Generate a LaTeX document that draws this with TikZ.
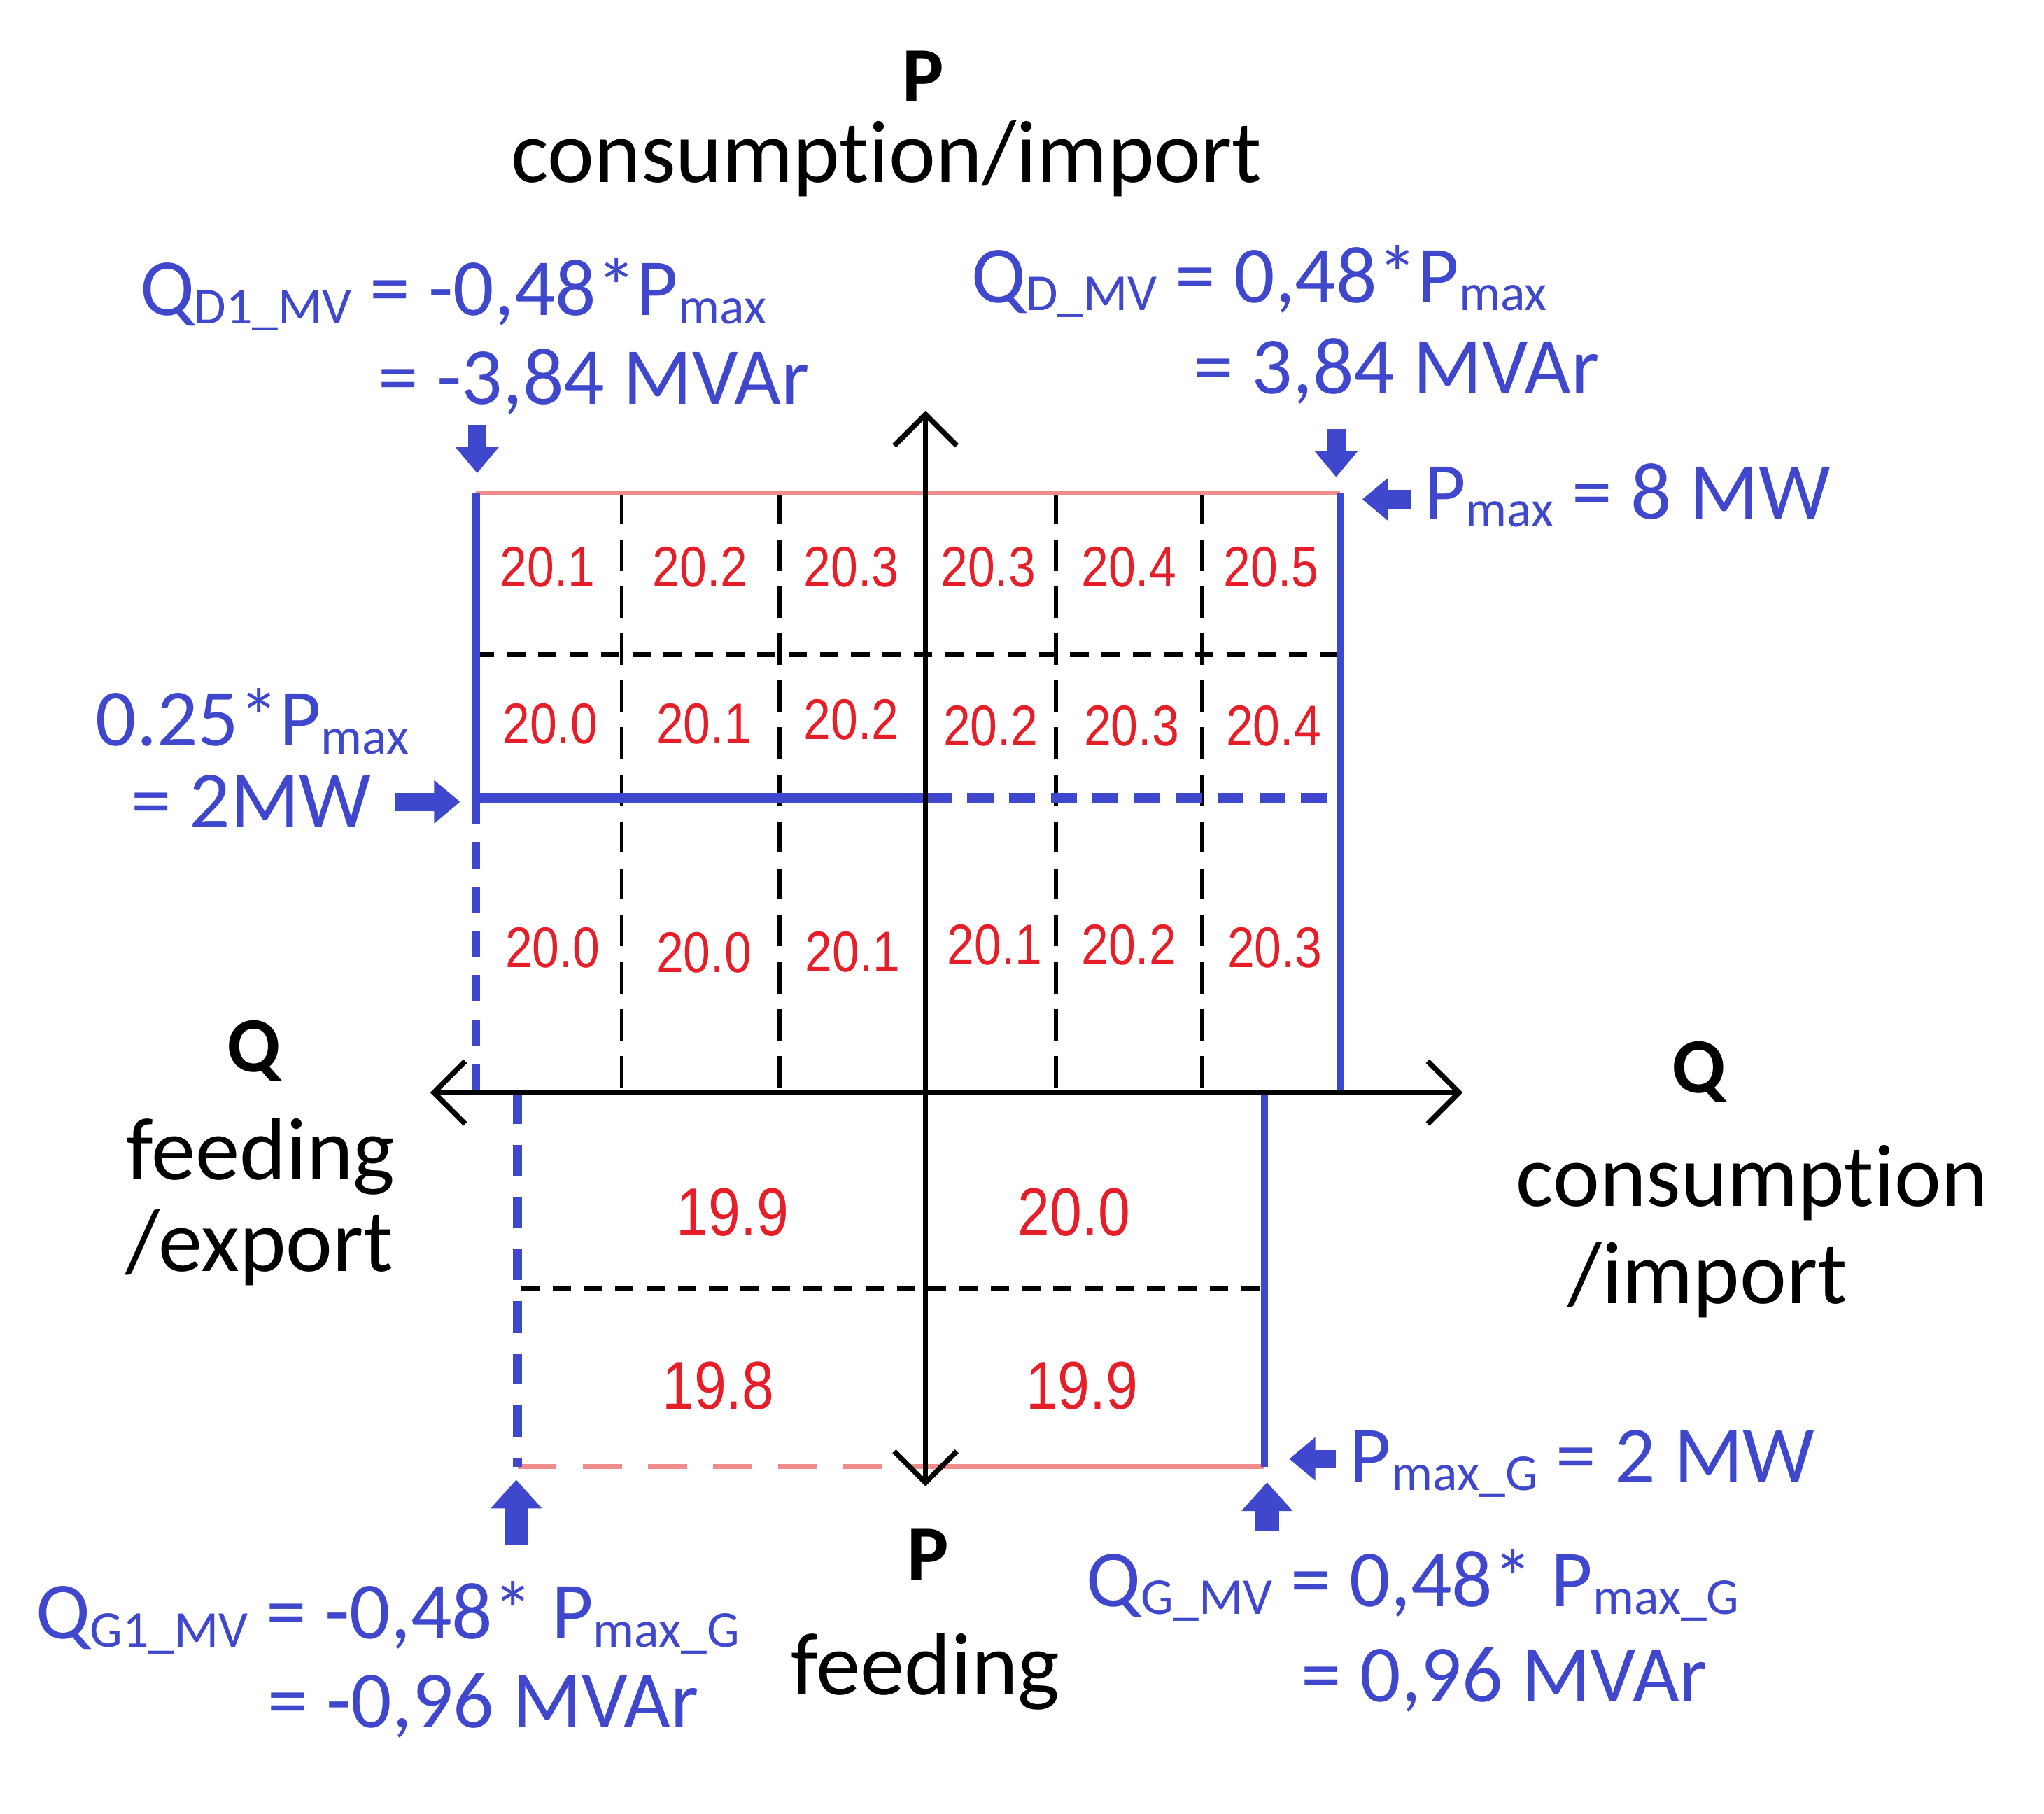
\documentclass[tikz,border=0pt]{standalone}
\usepackage{fontspec}
\usepackage{graphicx}
\setmainfont[Ligatures=NoCommon]{Carlito}
\newfontfamily\numfont[FakeStretch=0.85]{Liberation Sans}
\usetikzlibrary{arrows.meta}
\definecolor{qblue}{RGB}{63,72,204}
\definecolor{numred}{RGB}{230,30,40}
\definecolor{pinkline}{RGB}{240,140,140}
\newcommand{\lo}[1]{\raisebox{-0.1em}{\scalebox{0.64}{#1}}}
\newcommand{\cons}{consumpt\kern0pt ion}
\tikzset{
  axisline/.style={line width=2pt, {Straight Barb[length=12pt,width=24pt]}-{Straight Barb[length=12pt,width=24pt]}},
  vgrid/.style={black, line width=1.5pt, dash pattern=on 12pt off 6pt},
  hgrid/.style={black, line width=1.8pt, dash pattern=on 7pt off 5pt},
  bline/.style={qblue, line width=3pt},
  bdash/.style={qblue, line width=3pt, dash pattern=on 10pt off 7pt},
  pline/.style={pinkline, line width=1.8pt},
  barrow/.style={qblue, line width=7pt, -{Triangle[length=10pt,width=16pt]}},
  barrowbig/.style={qblue, line width=9pt, -{Triangle[length=11pt,width=19pt]}},
  lbl/.style={font=\fontsize{34}{40}\selectfont, inner sep=0pt, anchor=base},
  lblb/.style={font=\bfseries\fontsize{30}{36}\selectfont, inner sep=0pt, anchor=base},
  bt/.style={text=qblue, font=\fontsize{31}{36}\selectfont, inner sep=0pt, anchor=base west},
  num/.style={text=numred, font=\numfont\fontsize{22}{26}\selectfont, inner sep=0pt},
  numl/.style={text=numred, font=\numfont\fontsize{26}{30}\selectfont, inner sep=0pt}
}
\begin{document}
\begin{tikzpicture}[x=0.5pt,y=-0.5pt]
\fill[white] (0,0) rectangle (1568,1391);
\useasboundingbox (0,0) rectangle (1568,1391);
% key coordinates
\coordinate (TL) at (365,378); \coordinate (TR) at (1028,378);
\coordinate (ML) at (365,502); \coordinate (MR) at (1028,502);
\coordinate (BL) at (365,612); \coordinate (BC) at (710,612); \coordinate (BR) at (1028,612);
\coordinate (AL) at (365,838); \coordinate (AR) at (1028,838);
\coordinate (g1t) at (477,378); \coordinate (g1b) at (477,838);
\coordinate (g2t) at (598,378); \coordinate (g2b) at (598,838);
\coordinate (g3t) at (810,378); \coordinate (g3b) at (810,838);
\coordinate (g4t) at (922,378); \coordinate (g4b) at (922,838);
\coordinate (LLt) at (397,838); \coordinate (LLb) at (397,1125);
\coordinate (LRt) at (970,838); \coordinate (LRb) at (970,1125);
\coordinate (LCb) at (710,1125);
\coordinate (LMl) at (400,988); \coordinate (LMr) at (970,988);
\coordinate (qL) at (330,838); \coordinate (qR) at (1122,838);
\coordinate (pT) at (710,315); \coordinate (pB) at (710,1140);
% black dashed grid
\foreach \g in {1,2,3,4} \draw[vgrid] (g\g t) -- (g\g b);
\draw[hgrid] (ML) -- (MR);
\draw[hgrid] (LMl) -- (LMr);
% pink lines
\draw[pline] (TL) -- (TR);
\draw[pline, dash pattern=on 15pt off 10pt] (LLb) -- (LCb);
\draw[pline] (LCb) -- (LRb);
% blue lines
\draw[bline] (TL) -- (BL);
\draw[bdash] (BL) -- (AL);
\draw[bline, line width=2.5pt] (TR) -- (AR);
\draw[bline, line width=4pt] (BL) -- (BC);
\draw[bline, line width=4pt, dash pattern=on 10pt off 6pt] (BC) -- (BR);
\draw[bline, line width=3.5pt, dash pattern=on 12pt off 8pt] (LLt) -- (LLb);
\draw[bline, line width=2.5pt] (LRt) -- (LRb);
% axes
\draw[axisline] (qL) -- (qR);
\draw[axisline] (pB) -- (pT);
% block arrows
\coordinate (a1s) at (366,326); \coordinate (a1e) at (366,363);
\coordinate (a2s) at (1025,329); \coordinate (a2e) at (1025,366);
\coordinate (a3s) at (1082,383); \coordinate (a3e) at (1045,383);
\coordinate (a4s) at (303,615); \coordinate (a4e) at (353,615);
\coordinate (a7s) at (1025,1119); \coordinate (a7e) at (989,1119);
\coordinate (a5s) at (396,1185); \coordinate (a5e) at (396,1135);
\coordinate (a6s) at (972,1174); \coordinate (a6e) at (972,1137);
\foreach \a in {1,2,3,4,7} \draw[barrow] (a\a s) -- (a\a e);
\foreach \a in {5,6} \draw[barrowbig] (a\a s) -- (a\a e);
% black labels
\node[lblb] (ptop) at (708,78) {P};
\node[lbl] (ptoptxt) at (680,140) {\cons/import};
\node[lblb] (qleft) at (195,822) {Q};
\node[lbl] (qleft1) at (200,905) {feeding};
\node[lbl] (qleft2) at (199,975) {/export};
\node[lblb] (qright) at (1303,838) {Q};
\node[lbl] (qright1) at (1344,925) {\cons};
\node[lbl] (qright2) at (1310,1000) {/import};
\node[lblb] (pbot) at (712,1212) {P};
\node[lbl] (pbottxt) at (710,1300) {feeding};
% blue labels
\node[bt] (qd1a) at (107,242) {Q\lo{D1\_MV} = -0,48*P\lo{max}};
\node[bt] (qd1b) at (290,310) {= -3,84 MVAr};
\node[bt] (qda) at (745,232) {Q\lo{D\_MV} = 0,48*P\lo{max}};
\node[bt] (qdb) at (915,302) {= 3,84 MVAr};
\node[bt] (pmax) at (1092,398) {P\lo{max} = 8 MW};
\node[bt] (p25a) at (73,572) {0.25*P\lo{max}};
\node[bt] (p25b) at (100,635) {= 2MW};
\node[bt] (pmaxg) at (1035,1137) {P\lo{max\_G} = 2 MW};
\node[bt] (qg1a) at (27,1257) {Q\lo{G1\_MV} = -0,48* P\lo{max\_G}};
\node[bt] (qg1b) at (205,1325) {= -0,96 MVAr};
\node[bt] (qga) at (833,1232) {Q\lo{G\_MV} = 0,48* P\lo{max\_G}};
\node[bt] (qgb) at (998,1305) {= 0,96 MVAr};
% cell values
\node[num] (c11) at (420,435) {20.1};
\node[num] (c12) at (537,435) {20.2};
\node[num] (c13) at (653,435) {20.3};
\node[num] (c14) at (758,435) {20.3};
\node[num] (c15) at (866,435) {20.4};
\node[num] (c16) at (975,435) {20.5};
\node[num] (c21) at (422,555) {20.0};
\node[num] (c22) at (540,555) {20.1};
\node[num] (c23) at (653,552) {20.2};
\node[num] (c24) at (760,557) {20.2};
\node[num] (c25) at (868,557) {20.3};
\node[num] (c26) at (977,557) {20.4};
\node[num] (c31) at (424,727) {20.0};
\node[num] (c32) at (540,731) {20.0};
\node[num] (c33) at (654,730) {20.1};
\node[num] (c34) at (763,725) {20.1};
\node[num] (c35) at (866,725) {20.2};
\node[num] (c36) at (978,727) {20.3};
\node[numl] (d11) at (562,930) {19.9};
\node[numl] (d12) at (824,930) {20.0};
\node[numl] (d21) at (551,1063) {19.8};
\node[numl] (d22) at (830,1063) {19.9};
\end{tikzpicture}
\end{document}
